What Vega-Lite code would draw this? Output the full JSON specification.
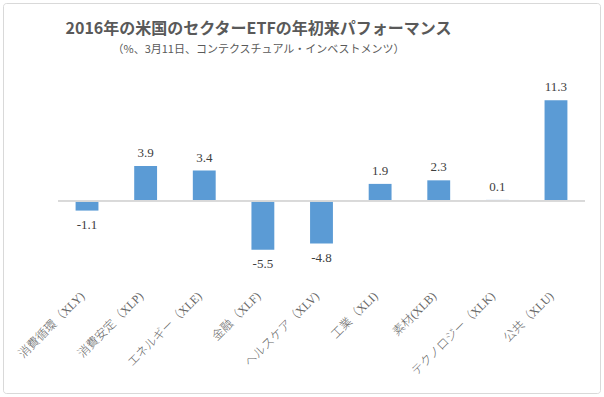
{
  "$schema": "https://vega.github.io/schema/vega-lite/v6.json",
  "autosize": {"type": "none"},
  "padding": {"left": 3, "top": 3, "right": 4, "bottom": 4},
  "width": 597,
  "height": 390,
  "background": "white",
  "title": {
    "text": "2016年の米国のセクターETFの年初来パフォーマンス",
    "subtitle": "（%、3月11日、コンテクスチュアル・インベストメンツ）",
    "anchor": "middle",
    "frame": "group",
    "dx": -43,
    "offset": -52,
    "font": "Noto Sans CJK JP",
    "fontSize": 16,
    "fontWeight": "bold",
    "color": "#595959",
    "subtitleFont": "Noto Sans CJK JP",
    "subtitleFontSize": 11,
    "subtitleColor": "#595959",
    "subtitlePadding": 7
  },
  "config": {"view": {"stroke": "#D9D9D9", "cornerRadius": 3}},
  "data": {
    "values": [
      {"sector": "消費循環（XLY)", "value": -1.1},
      {"sector": "消費安定（XLP)", "value": 3.9},
      {"sector": "エネルギー（XLE)", "value": 3.4},
      {"sector": "金融（XLF)", "value": -5.5},
      {"sector": "ヘルスケア（XLV)", "value": -4.8},
      {"sector": "工業（XLI)", "value": 1.9},
      {"sector": "素材(XLB)", "value": 2.3},
      {"sector": "テクノロジー（XLK)", "value": 0.1},
      {"sector": "公共（XLU)", "value": 11.3}
    ]
  },
  "resolve": {"scale": {"x": "independent"}, "axis": {"x": "independent"}},
  "layer": [
    {
      "encoding": {
        "x": {
          "field": "sector",
          "type": "nominal",
          "sort": null,
          "scale": {"range": [55, 582], "paddingInner": 0.61, "paddingOuter": 0.3},
          "axis": {
            "orient": "bottom",
            "offset": -121,
            "title": null,
            "labelAngle": -45,
            "domain": false,
            "ticks": false,
            "labelPadding": 18,
            "labelOffset": -8,
            "labelFont": "Liberation Serif, Noto Sans CJK JP",
            "labelFontSize": 12,
            "labelFontWeight": 300,
            "labelColor": "#666666",
            "labelOverlap": false,
            "labelLimit": 0
          }
        },
        "y": {
          "field": "value",
          "type": "quantitative",
          "scale": {"domain": [-8, 12], "range": [269, 91], "nice": false, "zero": false},
          "axis": null
        }
      },
      "layer": [
        {"mark": {"type": "bar", "color": "#5B9BD5"}},
        {
          "transform": [{"filter": "datum.value >= 0"}],
          "mark": {"type": "text", "baseline": "alphabetic", "dy": -9, "font": "Liberation Serif", "fontSize": 13, "color": "#404040"},
          "encoding": {"text": {"field": "value", "type": "nominal"}}
        },
        {
          "transform": [{"filter": "datum.value < 0"}],
          "mark": {"type": "text", "baseline": "top", "dy": 8, "font": "Liberation Serif", "fontSize": 13, "color": "#404040"},
          "encoding": {"text": {"field": "value", "type": "nominal"}}
        }
      ]
    },
    {
      "mark": {"type": "rule", "color": "#D9D9D9", "strokeWidth": 1},
      "encoding": {
        "x": {"datum": 0, "type": "quantitative", "scale": {"domain": [0, 1], "range": [55, 582]}, "axis": null},
        "x2": {"datum": 1},
        "y": {"datum": 0, "type": "quantitative"}
      }
    }
  ]
}
